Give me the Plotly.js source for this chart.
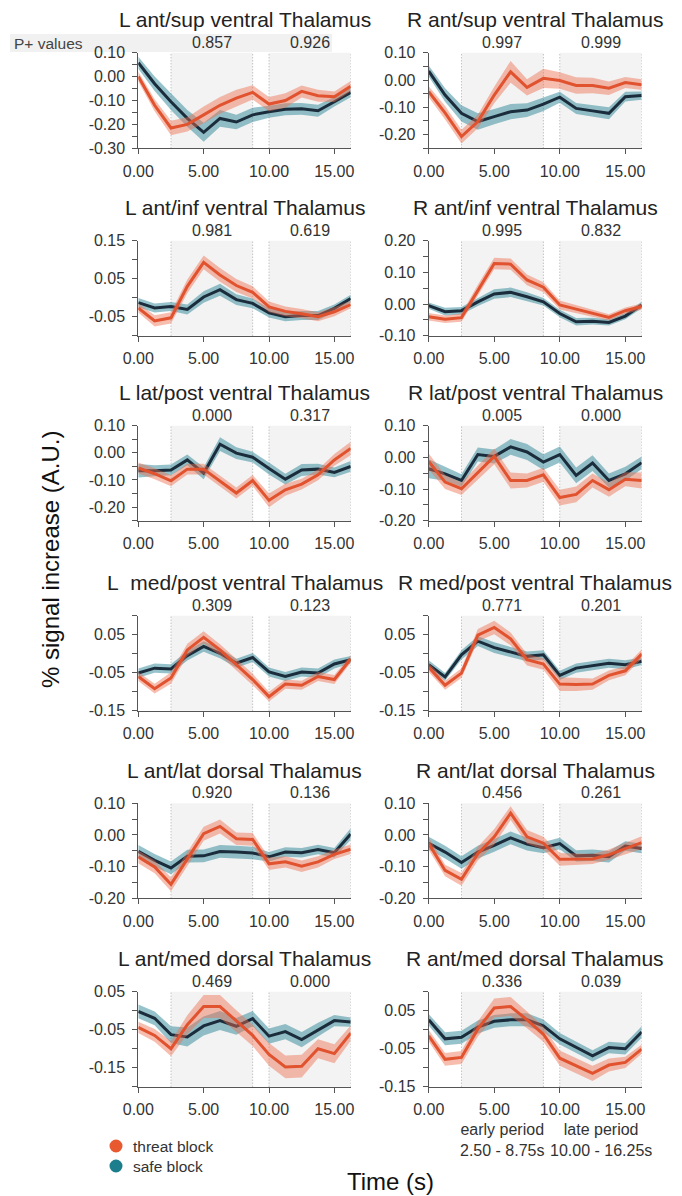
<!DOCTYPE html>
<html><head><meta charset="utf-8">
<script src="https://cdn.plot.ly/plotly-3.0.1.min.js"></script>
<style>html,body{margin:0;padding:0;background:#fff}#chart{width:682px;height:1196px}</style>
</head><body><div id="chart"></div>
<script>
const timePoints = [0, 1.25, 2.5, 3.75, 5, 6.25, 7.5, 8.75, 10, 11.25, 12.5, 13.75, 15, 16.25];
const regionNames = [
  'L ant/sup ventral Thalamus', 'R ant/sup ventral Thalamus',
  'L ant/inf ventral Thalamus', 'R ant/inf ventral Thalamus',
  'L lat/post ventral Thalamus', 'R lat/post ventral Thalamus',
  'L\u00a0 med/post ventral Thalamus', 'R med/post ventral Thalamus',
  'L ant/lat dorsal Thalamus', 'R ant/lat dorsal Thalamus',
  'L ant/med dorsal Thalamus', 'R ant/med dorsal Thalamus'
];
const pEarly = ['0.857','0.997','0.981','0.995','0.000','0.005','0.309','0.771','0.920','0.456','0.469','0.336'];
const pLate  = ['0.926','0.999','0.619','0.832','0.317','0.000','0.123','0.201','0.136','0.261','0.000','0.039'];
const xTickLabels = ['0.00','5.00','10.00','15.00'];
const yTickLabels = [
  ['0.10','0.00','-0.10','-0.20','-0.30'], ['0.10','0.00','-0.10','-0.20'],
  ['0.15','0.05','-0.05'], ['0.20','0.10','0.00','-0.10'],
  ['0.10','0.00','-0.10','-0.20'], ['0.10','0.00','-0.10','-0.20'],
  ['0.05','-0.05','-0.15'], ['0.05','-0.05','-0.15'],
  ['0.10','0.00','-0.10','-0.20'], ['0.10','0.00','-0.10','-0.20'],
  ['0.05','-0.05','-0.15'], ['0.05','-0.05','-0.15']
];
const yRanges = [[-0.30,0.10],[-0.25,0.10],[-0.10,0.15],[-0.10,0.20],[-0.25,0.10],[-0.20,0.10],
                 [-0.15,0.10],[-0.15,0.10],[-0.20,0.10],[-0.20,0.10],[-0.20,0.05],[-0.15,0.10]];

// threat block means / errors
const threatLAntSupV = [0.00,-0.12,-0.215,-0.20,-0.16,-0.12,-0.09,-0.066,-0.115,-0.10,-0.062,-0.08,-0.084,-0.04];
const threatLAntSupVErr = [0.02,0.025,0.03,0.03,0.035,0.035,0.035,0.03,0.03,0.03,0.025,0.025,0.022,0.022];
const threatRAntSupV = [-0.043,-0.12,-0.207,-0.152,-0.055,0.03,-0.027,0.006,-0.002,-0.02,-0.02,-0.03,-0.009,-0.017];
const threatRAntSupVErr = [0.02,0.025,0.025,0.025,0.03,0.04,0.03,0.035,0.03,0.03,0.028,0.025,0.02,0.02];
const threatLAntInfV = [-0.027,-0.061,-0.053,0.03,0.093,0.06,0.032,0.014,-0.024,-0.036,-0.042,-0.05,-0.037,-0.018];
const threatLAntInfVErr = [0.012,0.015,0.015,0.018,0.018,0.018,0.017,0.016,0.014,0.013,0.012,0.012,0.012,0.01];
const threatRAntInfV = [-0.04,-0.048,-0.043,0.044,0.128,0.126,0.076,0.053,-0.003,-0.016,-0.029,-0.042,-0.021,-0.008];
const threatRAntInfVErr = [0.012,0.012,0.013,0.017,0.018,0.018,0.017,0.016,0.014,0.013,0.012,0.01,0.01,0.01];
const threatLLatPostV = [-0.056,-0.077,-0.103,-0.06,-0.06,-0.105,-0.148,-0.102,-0.175,-0.136,-0.115,-0.081,-0.026,0.016];
const threatLLatPostVErr = [0.02,0.02,0.02,0.02,0.02,0.02,0.02,0.02,0.025,0.022,0.02,0.02,0.022,0.025];
const threatRLatPostV = [-0.013,-0.078,-0.099,-0.049,0.003,-0.073,-0.073,-0.055,-0.127,-0.117,-0.073,-0.102,-0.069,-0.073];
const threatRLatPostVErr = [0.025,0.022,0.02,0.022,0.025,0.025,0.022,0.022,0.025,0.025,0.022,0.022,0.022,0.025];
const threatLMedPostV = [-0.06,-0.092,-0.064,0.01,0.043,0.01,-0.029,-0.068,-0.113,-0.08,-0.083,-0.06,-0.068,-0.014];
const threatLMedPostVErr = [0.012,0.013,0.015,0.016,0.016,0.015,0.015,0.015,0.013,0.012,0.012,0.012,0.012,0.01];
const threatRMedPostV = [-0.036,-0.083,-0.051,0.049,0.069,0.039,-0.016,-0.027,-0.08,-0.081,-0.08,-0.057,-0.045,-0.001];
const threatRMedPostVErr = [0.012,0.012,0.013,0.016,0.018,0.017,0.015,0.015,0.018,0.017,0.015,0.013,0.012,0.012];
const threatLAntLatD = [-0.069,-0.101,-0.156,-0.075,0.004,0.027,-0.012,-0.014,-0.091,-0.085,-0.099,-0.085,-0.061,-0.045];
const threatLAntLatDErr = [0.02,0.02,0.022,0.022,0.022,0.022,0.02,0.02,0.02,0.018,0.018,0.018,0.015,0.015];
const threatRAntLatD = [-0.027,-0.112,-0.14,-0.059,-0.006,0.069,-0.006,-0.026,-0.077,-0.077,-0.076,-0.062,-0.043,-0.024];
const threatRAntLatDErr = [0.02,0.018,0.02,0.022,0.025,0.022,0.022,0.02,0.02,0.018,0.016,0.016,0.018,0.02];
const threatLAntMedD = [-0.044,-0.065,-0.1,-0.037,0.011,0.011,-0.027,-0.065,-0.115,-0.148,-0.146,-0.1,-0.113,-0.059];
const threatLAntMedDErr = [0.015,0.017,0.02,0.025,0.03,0.03,0.028,0.028,0.03,0.03,0.03,0.025,0.025,0.02];
const threatRAntMedD = [-0.016,-0.078,-0.073,0.002,0.057,0.061,0.026,-0.012,-0.075,-0.095,-0.115,-0.093,-0.086,-0.051];
const threatRAntMedDErr = [0.015,0.017,0.017,0.02,0.025,0.025,0.022,0.02,0.02,0.02,0.02,0.017,0.015,0.012];

// safe block means / errors
const safeLAntSupV = [0.058,-0.03,-0.105,-0.175,-0.233,-0.175,-0.19,-0.16,-0.147,-0.137,-0.135,-0.143,-0.105,-0.066];
const safeLAntSupVErr = [0.025,0.03,0.035,0.035,0.04,0.035,0.03,0.03,0.025,0.025,0.025,0.025,0.02,0.02];
const safeRAntSupV = [0.033,-0.055,-0.122,-0.152,-0.134,-0.116,-0.11,-0.088,-0.063,-0.104,-0.113,-0.122,-0.061,-0.057];
const safeRAntSupVErr = [0.02,0.025,0.03,0.03,0.028,0.028,0.025,0.025,0.02,0.02,0.02,0.022,0.018,0.015];
const safeLAntInfV = [-0.013,-0.027,-0.023,-0.031,0.002,0.021,-0.005,-0.015,-0.04,-0.05,-0.047,-0.047,-0.028,-0.002];
const safeLAntInfVErr = [0.012,0.012,0.012,0.013,0.015,0.016,0.014,0.013,0.012,0.012,0.012,0.012,0.01,0.01];
const safeRAntInfV = [-0.005,-0.024,-0.021,0.007,0.032,0.037,0.023,0.007,-0.03,-0.056,-0.054,-0.058,-0.038,-0.003];
const safeRAntInfVErr = [0.01,0.012,0.012,0.013,0.015,0.015,0.014,0.012,0.012,0.012,0.011,0.01,0.01,0.01];
const safeLLatPostV = [-0.066,-0.066,-0.063,-0.026,-0.075,0.032,-0.001,-0.016,-0.058,-0.097,-0.063,-0.06,-0.072,-0.05];
const safeLLatPostVErr = [0.025,0.02,0.02,0.02,0.022,0.025,0.022,0.02,0.022,0.02,0.022,0.02,0.018,0.02];
const safeRLatPostV = [-0.036,-0.052,-0.073,0.009,0.003,0.033,0.017,-0.015,0.009,-0.057,-0.018,-0.073,-0.052,-0.017];
const safeRLatPostVErr = [0.03,0.022,0.02,0.022,0.022,0.025,0.025,0.025,0.025,0.025,0.025,0.022,0.022,0.02];
const safeLMedPostV = [-0.051,-0.038,-0.04,-0.005,0.019,0.001,-0.025,-0.01,-0.048,-0.06,-0.048,-0.051,-0.027,-0.016];
const safeLMedPostVErr = [0.012,0.012,0.012,0.013,0.014,0.013,0.012,0.012,0.012,0.012,0.012,0.012,0.012,0.01];
const safeRMedPostV = [-0.029,-0.061,-0.003,0.033,0.016,0.004,-0.007,-0.003,-0.057,-0.038,-0.032,-0.025,-0.029,-0.02];
const safeRMedPostVErr = [0.012,0.01,0.012,0.013,0.014,0.014,0.013,0.012,0.012,0.012,0.012,0.012,0.012,0.01];
const safeLAntLatD = [-0.052,-0.08,-0.104,-0.067,-0.066,-0.052,-0.054,-0.057,-0.069,-0.054,-0.056,-0.046,-0.056,0.003];
const safeLAntLatDErr = [0.02,0.02,0.02,0.02,0.02,0.02,0.02,0.02,0.015,0.015,0.015,0.015,0.015,0.018];
const safeRAntLatD = [-0.026,-0.054,-0.087,-0.054,-0.033,-0.009,-0.029,-0.04,-0.027,-0.066,-0.064,-0.069,-0.035,-0.043];
const safeRAntLatDErr = [0.02,0.02,0.02,0.02,0.02,0.02,0.02,0.018,0.018,0.018,0.018,0.018,0.015,0.015];
const safeLAntMedD = [-0.002,-0.02,-0.063,-0.069,-0.04,-0.026,-0.041,-0.021,-0.067,-0.055,-0.076,-0.05,-0.026,-0.03];
const safeLAntMedDErr = [0.018,0.018,0.022,0.025,0.025,0.025,0.022,0.02,0.02,0.02,0.02,0.018,0.015,0.012];
const safeRAntMedD = [0.026,-0.024,-0.02,0.007,0.022,0.026,0.026,0.01,-0.024,-0.046,-0.069,-0.047,-0.05,-0.006];
const safeRAntMedDErr = [0.015,0.017,0.017,0.017,0.017,0.017,0.017,0.017,0.015,0.015,0.015,0.015,0.015,0.015];

const earlyPeriod = [2.5, 8.75];
const latePeriod = [10, 16.25];
const legendLabels = ['threat block', 'safe block'];

const threatMeans = [threatLAntSupV, threatRAntSupV, threatLAntInfV, threatRAntInfV, threatLLatPostV, threatRLatPostV,
  threatLMedPostV, threatRMedPostV, threatLAntLatD, threatRAntLatD, threatLAntMedD, threatRAntMedD];
const threatErrs = [threatLAntSupVErr, threatRAntSupVErr, threatLAntInfVErr, threatRAntInfVErr, threatLLatPostVErr, threatRLatPostVErr,
  threatLMedPostVErr, threatRMedPostVErr, threatLAntLatDErr, threatRAntLatDErr, threatLAntMedDErr, threatRAntMedDErr];
const safeMeans = [safeLAntSupV, safeRAntSupV, safeLAntInfV, safeRAntInfV, safeLLatPostV, safeRLatPostV,
  safeLMedPostV, safeRMedPostV, safeLAntLatD, safeRAntLatD, safeLAntMedD, safeRAntMedD];
const safeErrs = [safeLAntSupVErr, safeRAntSupVErr, safeLAntInfVErr, safeRAntInfVErr, safeLLatPostVErr, safeRLatPostVErr,
  safeLMedPostVErr, safeRMedPostVErr, safeLAntLatDErr, safeRAntLatDErr, safeLAntMedDErr, safeRAntMedDErr];

// ---------- styling / layout ----------
const W = 682, H = 1196;
const FONT = 'Liberation Sans, Arial, Helvetica, sans-serif';
const colPx = [[138.3, 350.7], [428.7, 641.7]];
const rowPx = [[52.7,148.3],[240.7,335.7],[425.7,520.7],[615.7,710.7],[803.3,898.3],[991.7,1086.7]];
const threatLine = '#e1522f', threatBand = 'rgba(238,110,80,0.45)';
const safeLine = '#1b2d3c', safeBand = 'rgba(45,135,152,0.5)';
const legendColors = ['#e8592f', '#1c7d8c'];
const axisColor = '#555';

const traces = [];
const shapes = [];
const annotations = [];
const layout = {
  width: W, height: H, autosize: false,
  margin: {l: 0, r: 0, t: 0, b: 0, pad: 0},
  paper_bgcolor: '#fff', plot_bgcolor: 'rgba(0,0,0,0)',
  font: {family: FONT, color: '#333', size: 16},
  showlegend: false
};

function bandTrace(mean, err, xa, ya, color) {
  const up = mean.map((v, k) => v + err[k]);
  const lo = mean.map((v, k) => v - err[k]);
  return {type: 'scatter', mode: 'lines', x: timePoints.concat(timePoints.slice().reverse()),
    y: up.concat(lo.slice().reverse()), fill: 'toself', fillcolor: color,
    line: {width: 0, color: 'rgba(0,0,0,0)'}, hoverinfo: 'skip', showlegend: false, xaxis: xa, yaxis: ya};
}

for (let i = 0; i < 12; i++) {
  const row = Math.floor(i / 2), col = i % 2;
  const sfx = i === 0 ? '' : String(i + 1);
  const xa = 'x' + sfx, ya = 'y' + sfx;
  const [x0, x1] = colPx[col];
  const [t, b] = rowPx[row];
  const yr = yRanges[i];
  const tv = [], tt = [];
  for (let v = Math.round(yr[0]*100); v <= Math.round(yr[1]*100) + 0.001; v += 5) {
    const val = v / 100;
    tv.push(val);
    const lab = yTickLabels[i].find(s => Math.abs(parseFloat(s) - val) < 1e-6);
    tt.push(lab || '');
  }
  layout['xaxis' + sfx] = {
    domain: [x0 / W, x1 / W], range: [0, 16.25], anchor: ya, fixedrange: true,
    tickmode: 'array', tickvals: xTickLabels.map(parseFloat), ticktext: xTickLabels,
    showline: true, linecolor: axisColor, linewidth: 1, ticks: 'outside', ticklen: 5, tickcolor: axisColor,
    showgrid: false, zeroline: false, tickfont: {family: FONT, size: 16, color: '#333'}, ticklabelstandoff: 3
  };
  layout['yaxis' + sfx] = {
    domain: [1 - b / H, 1 - t / H], range: yr, anchor: xa, fixedrange: true,
    tickmode: 'array', tickvals: tv, ticktext: tt,
    showline: true, linecolor: axisColor, linewidth: 1, ticks: 'outside', ticklen: 5, tickcolor: axisColor,
    showgrid: false, zeroline: false, tickfont: {family: FONT, size: 16, color: '#333'}, ticklabelstandoff: 4
  };
  [earlyPeriod, latePeriod].forEach(p => {
    shapes.push({type: 'rect', xref: xa, yref: ya + ' domain', x0: p[0], x1: p[1], y0: 0, y1: 1,
      fillcolor: '#f3f3f3', line: {width: 0}, layer: 'below'});
  });
  [earlyPeriod[0], earlyPeriod[1], latePeriod[0], latePeriod[1]].forEach(xv => {
    shapes.push({type: 'line', xref: xa, yref: ya + ' domain', x0: xv, x1: xv, y0: 0, y1: 1,
      line: {color: '#aaaaaa', width: 1, dash: '1px,2px'}, layer: 'below'});
  });
  traces.push(bandTrace(safeMeans[i], safeErrs[i], xa, ya, safeBand));
  traces.push({type: 'scatter', mode: 'lines', x: timePoints, y: safeMeans[i], line: {color: safeLine, width: 3},
    showlegend: false, xaxis: xa, yaxis: ya, name: legendLabels[1]});
  traces.push(bandTrace(threatMeans[i], threatErrs[i], xa, ya, threatBand));
  traces.push({type: 'scatter', mode: 'lines', x: timePoints, y: threatMeans[i], line: {color: threatLine, width: 3},
    showlegend: false, xaxis: xa, yaxis: ya, name: legendLabels[0]});
  annotations.push({text: regionNames[i], xref: xa + ' domain', yref: ya + ' domain', x: 0.5, y: 1,
    xanchor: 'center', yanchor: 'middle', yshift: 33, showarrow: false,
    font: {family: FONT, size: 21, color: '#222'}});
  annotations.push({text: pEarly[i], xref: xa, yref: ya + ' domain', x: (earlyPeriod[0] + earlyPeriod[1]) / 2, y: 1,
    xanchor: 'center', yanchor: 'bottom', yshift: 0, showarrow: false, font: {family: FONT, size: 16, color: '#333'}});
  annotations.push({text: pLate[i], xref: xa, yref: ya + ' domain', x: (latePeriod[0] + latePeriod[1]) / 2, y: 1,
    xanchor: 'center', yanchor: 'bottom', yshift: 0, showarrow: false, font: {family: FONT, size: 16, color: '#333'}});
}

// P+ values band
shapes.push({type: 'rect', xref: 'paper', yref: 'paper', x0: 10/W, x1: 332/W, y0: 1 - 52/H, y1: 1 - 34/H,
  fillcolor: '#f1f1f1', line: {width: 0}, layer: 'below'});
annotations.push({text: 'P+ values', xref: 'paper', yref: 'paper', x: 12/W, y: 1 - 43.5/H, xanchor: 'left', yanchor: 'middle',
  showarrow: false, font: {family: FONT, size: 15.5, color: '#444'}});

// axis titles
annotations.push({text: '% signal increase (A.U.)', xref: 'paper', yref: 'paper', x: 50/W, y: 1 - 560/H,
  xanchor: 'center', yanchor: 'middle', textangle: -90, showarrow: false, font: {family: FONT, size: 24, color: '#111'}});
annotations.push({text: 'Time (s)', xref: 'paper', yref: 'paper', x: 390/W, y: 1 - 1181/H,
  xanchor: 'center', yanchor: 'middle', showarrow: false, font: {family: FONT, size: 24, color: '#111'}});

// period explanation
annotations.push({text: 'early period<br>2.50 - 8.75s', xref: 'paper', yref: 'paper', x: 502/W, y: 1 - 1140/H,
  xanchor: 'center', yanchor: 'middle', showarrow: false, font: {family: FONT, size: 16, color: '#333'}});
annotations.push({text: 'late period<br>10.00 - 16.25s', xref: 'paper', yref: 'paper', x: 601/W, y: 1 - 1140/H,
  xanchor: 'center', yanchor: 'middle', showarrow: false, font: {family: FONT, size: 16, color: '#333'}});

// legend (circle markers + labels)
const legendY = [1146, 1166];
legendLabels.forEach((lab, k) => {
  shapes.push({type: 'circle', xref: 'paper', yref: 'paper', xsizemode: 'pixel', ysizemode: 'pixel',
    xanchor: 116/W, yanchor: 1 - legendY[k]/H, x0: -6.5, x1: 6.5, y0: -6.5, y1: 6.5,
    fillcolor: legendColors[k], line: {width: 0}});
  annotations.push({text: lab, xref: 'paper', yref: 'paper', x: 131/W, y: 1 - legendY[k]/H,
    xanchor: 'left', yanchor: 'middle', showarrow: false, font: {family: FONT, size: 15.5, color: '#333'}});
});

layout.shapes = shapes;
layout.annotations = annotations;
Plotly.newPlot('chart', traces, layout, {staticPlot: true, displayModeBar: false});
</script>
</body></html>
